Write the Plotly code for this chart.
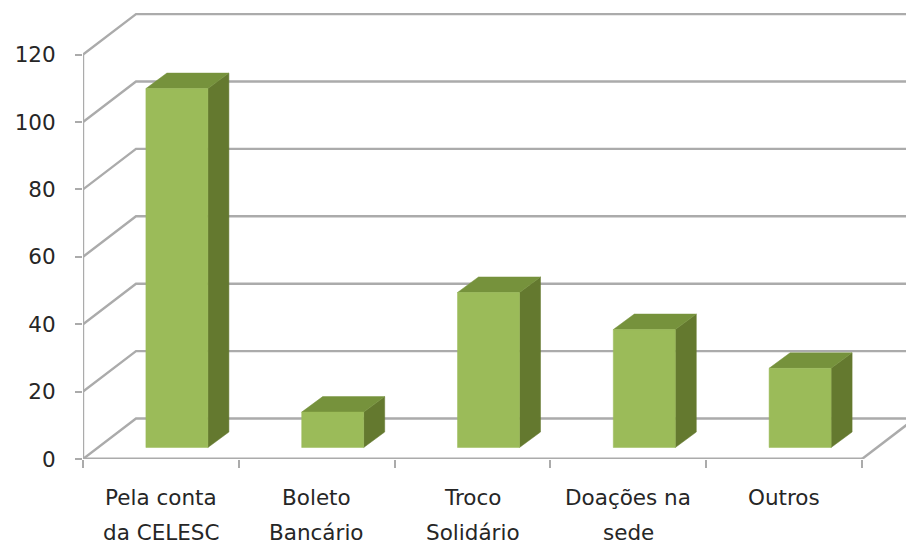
import plotly.graph_objects as go

categories_line1 = ["Pela conta", "Boleto", "Troco", "Doações na", "Outros"]
categories_line2 = ["da CELESC", "Bancário", "Solidário", "sede", ""]
values = [106.5, 10.5, 46, 35, 23.5]
y_ticks = [0, 20, 40, 60, 80, 100, 120]

GRID = "#ABABAB"
FRONT = "#9BBB59"
TOP = "#76923C"
SIDE = "#64792F"
TEXT = "#262626"
FONT = "DejaVu Sans"

# pixel scale used only to convert the oblique projection into data units
PX_X = 155.8
PX_Y = 3.37
LEFT, RIGHT, TOPM, BOTTOM = 83, 0, 10, 88
W, H = 906, 547
xmax = (W - LEFT - RIGHT) / PX_X
ymax = (H - TOPM - BOTTOM) / PX_Y

depth_x = 53 / PX_X
depth_y = 40.5 / PX_Y
n = len(values)

fig = go.Figure()


def line(xs, ys, width=2.4, color=GRID):
    fig.add_trace(go.Scatter(x=xs, y=ys, mode="lines", cliponaxis=False, hoverinfo="skip",
                             line=dict(color=color, width=width), showlegend=False))


def poly(xs, ys, color):
    fig.add_trace(go.Scatter(x=xs, y=ys, mode="lines", fill="toself", fillcolor=color,
                             line=dict(color=color, width=0.5), hoverinfo="skip",
                             showlegend=False))


# walls and gridlines
for t in y_ticks:
    line([0, depth_x, xmax + 1], [t, t + depth_y, t + depth_y])
# floor
line([0, n], [0, 0], width=2.8)
line([n, n + depth_x], [0, depth_y])
# value axis
line([0, 0], [0, 120])

# bars
bar_w = 62 / PX_X
bar_dx = 21 / PX_X
bar_dy = 15.5 / PX_Y
off_x = 16 / PX_X
off_y = 11.5 / PX_Y
for i, v in enumerate(values):
    x0 = i + 0.5 + off_x - bar_w / 2
    x1 = x0 + bar_w
    y0 = off_y
    y1 = off_y + v
    poly([x1, x1 + bar_dx, x1 + bar_dx, x1, x1],
         [y0, y0 + bar_dy, y1 + bar_dy, y1, y0], SIDE)
    poly([x0, x0 + bar_dx, x1 + bar_dx, x1, x0],
         [y1, y1 + bar_dy, y1 + bar_dy, y1, y1], TOP)
    poly([x0, x1, x1, x0, x0], [y0, y0, y1, y1, y0], FRONT)

# category labels (the reference has wide line spacing)
for i, (a, b) in enumerate(zip(categories_line1, categories_line2)):
    for text, shift in ((a, -53), (b, -88)):
        if text:
            fig.add_annotation(x=i + 0.5, y=0, xref="x", yref="paper", text=text, showarrow=False,
                               yshift=shift, font=dict(family=FONT, size=21.5, color=TEXT))

fig.update_layout(
    width=W, height=H, paper_bgcolor="white", plot_bgcolor="white",
    margin=dict(l=LEFT, r=RIGHT, t=TOPM, b=BOTTOM, autoexpand=False),
    showlegend=False, font=dict(family=FONT, size=21.5, color=TEXT),
    xaxis=dict(range=[0, xmax], showgrid=False, zeroline=False, showline=False,
               tickvals=[], minor=dict(ticks="outside", tick0=0, dtick=1, ticklen=8, tickwidth=2,
                                       tickcolor=GRID, showgrid=False)),
    yaxis=dict(range=[0, ymax], showgrid=False, zeroline=False, showline=False,
               tickvals=y_ticks, ticks="outside", ticklen=7, tickwidth=2, tickcolor=GRID,
               ticklabelstandoff=15, tickfont=dict(family=FONT, size=21.5, color=TEXT)),
)
fig.write_html("out.html", config=dict(displayModeBar=False),
               post_script="document.body.style.margin='0';")
